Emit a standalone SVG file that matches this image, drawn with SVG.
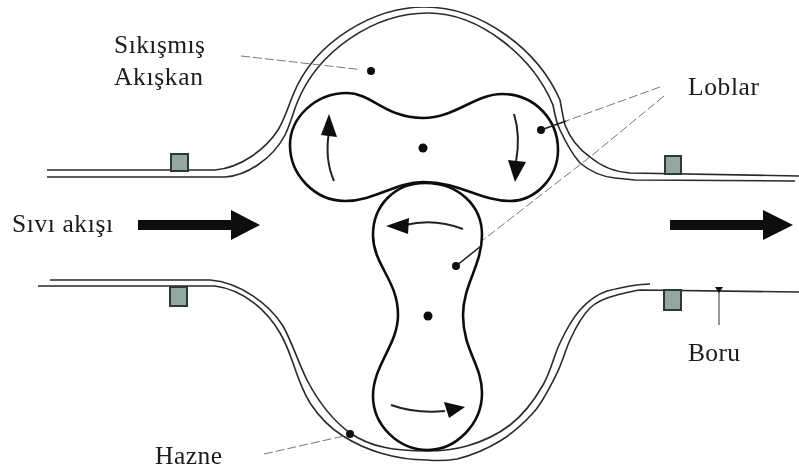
<svg xmlns="http://www.w3.org/2000/svg" width="799" height="473" viewBox="0 0 799 473">
<defs>
<filter id="soft" x="0" y="0" width="100%" height="100%"><feGaussianBlur stdDeviation="0.35"/></filter>
<style>
.wall{fill:none;stroke:#2a2a2a;stroke-width:1.6}
.lobe{fill:none;stroke:#111;stroke-width:2.6}
.lead{fill:none;stroke:#777;stroke-width:1;stroke-dasharray:9 3}
.leadsolid{fill:none;stroke:#222;stroke-width:1.6}
.rot{fill:none;stroke:#222;stroke-width:2}
.head{fill:#0a0a0a}
.dot{fill:#111}
.clamp{fill:#93a89e;stroke:#2c3a33;stroke-width:2}
text{font-family:"Liberation Serif","Times New Roman",serif;font-size:25.500px;fill:#1a1a1a}
</style>
</defs>
<rect width="799" height="473" fill="#fff"/>
<g filter="url(#soft)">
<g id="housing-top">
<path class="wall" d="M47 170H215C240 168 265 150 278 130C285 118 288 107 293 95C315 40 375 7 425 7C482 7 538 50 560 100C562 110 563 118 565 125C570 138 580 150 590 157C602 167 615 172 630 173L799 176"/>
<path class="wall" d="M47 177H225C245 176 272 160 285 135C290 125 293 113 297 103C318 50 375 13 428 13C480 13 533 57 553 105C555 115 556 122 560 130C567 145 573 155 580 163C592 173 605 177 615 178L635 180L795 181"/>
</g>
<g id="housing-bottom">
<path class="wall" d="M50 280H210C240 282 270 305 283 326C292 342 298 362 307 380C320 405 335 422 350 433C370 447 395 451 427 451C440 451 453 450 467 446C481 442 497 435 510 425C523 415 535 399 543 385C551 371 554 355 560 343C566 330 572 319 580 310C588 301 595 295 607 291C619 288 638 284 650 284"/>
<path class="wall" d="M38 286H215C245 290 268 312 280 333C287 345 290 355 293 363C298 378 302 390 310 403C320 418 330 428 343 436C365 450 395 460 427 460C437 461 445 461 457 459C469 456 487 449 500 441C513 433 523 424 533 413C543 402 551 385 557 373C563 361 565 351 570 340C575 329 582 316 590 308C598 300 609 297 617 295C625 293 632 291 640 290L799 292"/>
</g>
<g id="pipe-clamps">
<rect class="clamp" x="171" y="154" width="17" height="17"/>
<rect class="clamp" x="665" y="156" width="16" height="18"/>
<rect class="clamp" x="170" y="287" width="17" height="19"/>
<rect class="clamp" x="664" y="290" width="17" height="20"/>
</g>
<g id="lobe-horizontal">
<path class="lobe" d="M347 93C372 93 385 118 423 118C455 118 475 94 502 94C535 94 558 120 558 150C558 178 535 201 510 201C480 201 460 182 423 182C395 182 375 201 345 201C315 201 290 175 290 145C290 118 315 93 347 93Z"/>
</g>
<g id="lobe-vertical">
<path class="lobe" d="M425 183C458 183 482 205 482 235C482 265 463 285 463 315C463 350 482 365 482 393C482 425 455 450 428 450C398 450 373 425 373 396C373 365 398 345 398 315C398 280 373 265 373 235C373 205 395 183 425 183Z"/>
</g>
<g id="rotation-arrows">
<path class="rot" d="M334 181C327 165 326 150 329 132"/>
<polygon class="head" points="329,114 337,137 321,135"/>
<path class="rot" d="M514 114C519 130 519 145 516 162"/>
<polygon class="head" points="515,182 508,160 526,162"/>
<path class="rot" d="M463 229C445 222 425 220 405 225"/>
<polygon class="head" points="386,226 409,218 408,234"/>
<path class="rot" d="M391 405C405 410 425 413 445 411"/>
<polygon class="head" points="465,407 444,402 449,418"/>
</g>
<g id="centres">
<circle class="dot" cx="423" cy="148" r="4.500"/>
<circle class="dot" cx="428" cy="316" r="4.500"/>
</g>
<g id="connectors">
<path class="lead" d="M241 56L360 69.500"/>
<circle class="dot" cx="371" cy="71" r="4"/>
<path class="lead" d="M660 87L566 121"/>
<path class="leadsolid" d="M566 121L541 130"/>
<circle class="dot" cx="541" cy="130" r="4"/>
<path class="lead" d="M664 96L590 157L483 240"/>
<path class="leadsolid" d="M481 246L456 266"/>
<circle class="dot" cx="456" cy="266" r="4"/>
<path class="lead" d="M264 454L344 436"/>
<circle class="dot" cx="350" cy="434" r="4"/>
<path fill="none" stroke="#555" stroke-width="1.2" d="M719 290V325"/>
<polygon class="head" points="715,287 723,287 719,293"/>
</g>
<g id="flow-arrows">
<path class="head" d="M138 220H231V210L260 225L231 240V230H138Z"/>
<path class="head" d="M670 220H763V210L793 225L763 240V230H670Z"/>
</g>
<g id="labels">
<text x="114" y="53" textLength="91">Sıkışmış</text>
<text x="114" y="85" textLength="89">Akışkan</text>
<text x="688" y="95" textLength="71">Loblar</text>
<text x="12" y="232" textLength="101">Sıvı akışı</text>
<text x="688" y="361" textLength="52">Boru</text>
<text x="155" y="464" textLength="67">Hazne</text>
</g>
</g>
</svg>
